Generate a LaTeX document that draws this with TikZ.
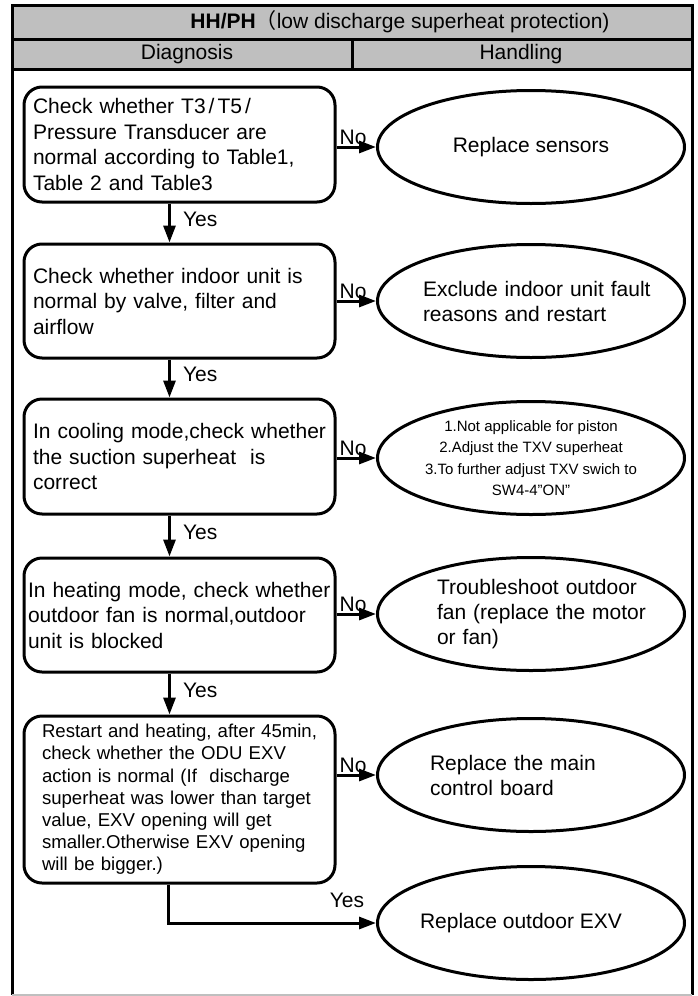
\documentclass[tikz,border=0pt]{standalone}
\usepackage{fontspec}
\setmainfont{Liberation Sans}
\newfontfamily\cjk{Noto Sans CJK SC}
\usetikzlibrary{arrows.meta,shapes.geometric}
\begin{document}
\begin{tikzpicture}[x=1pt,y=-1pt,
  box/.style={draw, line width=3pt, rounded corners=18pt, minimum width=311pt,
    inner ysep=0pt, align=left, font=\fontsize{21}{25.5}\selectfont},
  ell/.style={draw, ellipse, line width=3pt, minimum width=307pt, minimum height=113pt,
    inner sep=0pt, font=\fontsize{21}{25}\selectfont},
  arr/.style={line width=3pt, -{Triangle[length=17pt,width=12pt]}},
  lbl/.style={font=\fontsize{21}{25}\selectfont, inner sep=1pt},
  hdr/.style={font=\fontsize{21}{25}\selectfont, inner sep=0pt},
  frame/.style={line width=3pt}
]
\useasboundingbox (0,0) rectangle (698,996);
% header
\fill[black!25] (12,5) rectangle (692,69);
\draw[frame] (12,39) -- (692,39);
\draw[frame] (12,69) -- (692,69);
\draw[frame] (352,39) -- (352,69);
\draw[frame] (12,995) -- (12,5) -- (692,5) -- (692,995);
\draw[line width=1.5pt, black!25] (12,995) -- (692,995);
\node[hdr] (ttl) at (400,22) {{\bfseries HH/PH}{\cjk （}low discharge superheat protection)};
\node[hdr] (dgn) at (187,54) {Diagnosis};
\node[hdr] (hdl) at (521,54) {Handling};

% diagnosis boxes
\node[box, minimum height=115pt, inner xsep=9pt, text width=293pt] (b1) at (179.5,144.5)
  {Check whether T3\kern3pt/\kern3pt T5\kern3pt/\\Pressure Transducer are\\normal according to Table1,\\Table 2 and Table3};
\node[box, minimum height=114pt, inner xsep=9pt, text width=293pt] (b2) at (179.5,301)
  {Check whether indoor unit is\\normal by valve, filter and\\airflow};
\node[box, minimum height=115pt, inner xsep=9pt, text width=293pt] (b3) at (179.5,456.5)
  {\mbox{In cooling mode,check whether}\\the suction superheat~ is\\correct};
\node[box, minimum height=114pt, inner xsep=4pt, text width=303pt] (b4) at (179.5,615)
  {\mbox{In heating mode, check whether}\\outdoor fan is normal,outdoor\\unit is blocked};
\node[box, minimum height=167pt, inner xsep=18pt, text width=275pt,
  font=\fontsize{18.6}{22.2}\selectfont] (b5) at (179.5,799.5)
  {\mbox{Restart and heating, after 45min,}\\\mbox{check whether the ODU EXV}\\\mbox{action is normal (If~ discharge}\\\mbox{superheat was lower than target}\\\mbox{value, EXV opening will get}\\\mbox{smaller.Otherwise EXV opening}\\\mbox{will be bigger.)}};

% handling ellipses
\node[ell] (e1) at (531,147) {Replace sensors};
\node[ell, text width=216pt, align=left] (e2) at (531,301)
  {\mbox{Exclude indoor unit fault}\\\mbox{reasons and restart}};
\node[ell, align=center, font=\fontsize{15}{21.3}\selectfont] (e3) at (531,458)
  {1.Not applicable for piston\\2.Adjust the TXV superheat\\3.To further adjust TXV swich to\\SW4-4”ON”};
\node[ell, text width=188pt, align=left] (e4) at (531,614)
  {\mbox{Troubleshoot outdoor}\\\mbox{fan (replace the motor}\\or fan)};
\node[ell, text width=202pt, align=left] (e5) at (531,775)
  {Replace the main\\control board};
\node[ell] (e6) at (531,923) {\hspace*{-20pt}Replace outdoor EXV};

% connectors
\draw[arr] (b1.east |- e1.west) -- node[lbl, above, pos=0.42] {No} (e1.west);
\draw[arr] (b2.east |- e2.west) -- node[lbl, above, pos=0.42] {No} (e2.west);
\draw[arr] (b3.east |- e3.west) -- node[lbl, above, pos=0.42] {No} (e3.west);
\draw[arr] (b4.east |- e4.west) -- node[lbl, above, pos=0.42] {No} (e4.west);
\draw[arr] (b5.east |- e5.west) -- node[lbl, above, pos=0.42] {No} (e5.west);

\draw[arr] ([xshift=-10pt]b1.south) -- node[lbl, right=11pt, pos=0.4] {Yes} ([xshift=-10pt]b2.north);
\draw[arr] ([xshift=-10pt]b2.south) -- node[lbl, right=11pt, pos=0.4] {Yes} ([xshift=-10pt]b3.north);
\draw[arr] ([xshift=-10pt]b3.south) -- node[lbl, right=11pt, pos=0.4] {Yes} ([xshift=-10pt]b4.north);
\draw[arr] ([xshift=-10pt]b4.south) -- node[lbl, right=11pt, pos=0.4] {Yes} ([xshift=-10pt]b5.north);
\draw[arr] ([xshift=-11pt]b5.south) |- node[lbl, above=13pt, pos=0.93] {Yes} (e6.west);
\end{tikzpicture}
\end{document}
